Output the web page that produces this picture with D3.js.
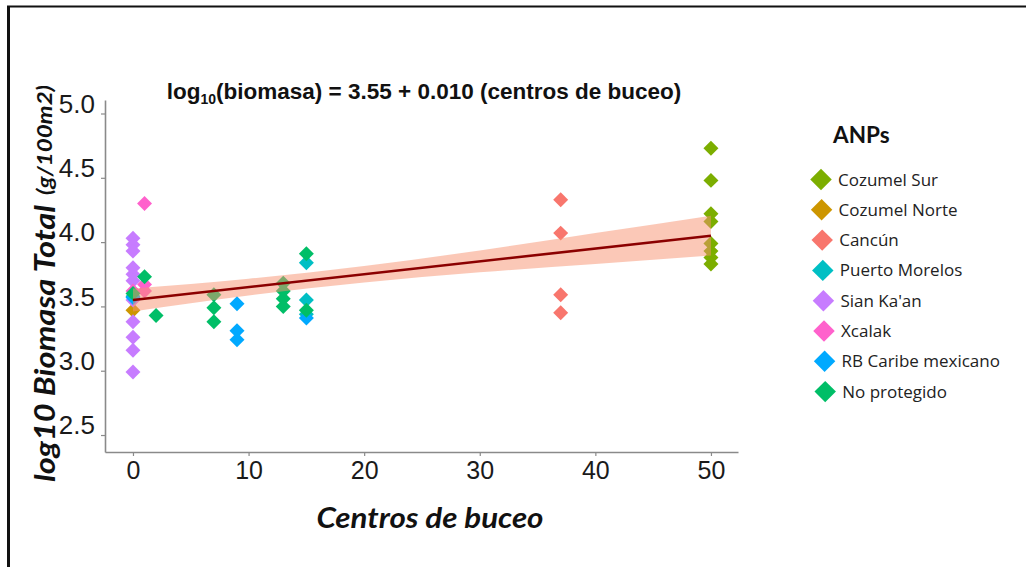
<!DOCTYPE html>
<html>
<head>
<meta charset="utf-8">
<script src="https://cdn.jsdelivr.net/npm/d3@7"></script>
<style>
  html, body { margin: 0; padding: 0; background: #fff; }
  svg { display: block; }
</style>
</head>
<body>
<svg id="chart" width="1026" height="567"></svg>
<script>
// ---------- data ----------
const categories = ["Cozumel Sur", "Cozumel Norte", "Cancún", "Puerto Morelos", "Sian Ka'an", "Xcalak", "RB Caribe mexicano", "No protegido"];
const colors = ["#7CAE00", "#CD9600", "#F8766D", "#00BFC4", "#C77CFF", "#FF61CC", "#00A9FF", "#00BE67"];

const cozumelSurX = [50, 50, 50, 50, 50, 50, 50, 50];
const cozumelSurY = [4.73, 4.48, 4.22, 4.16, 3.99, 3.93, 3.88, 3.83];
const cozumelNorteX = [0];
const cozumelNorteY = [3.47];
const cancunX = [37, 37, 37, 37];
const cancunY = [4.33, 4.07, 3.59, 3.45];
const puertoMorelosX = [0, 15, 15, 15];
const puertoMorelosY = [3.58, 3.84, 3.55, 3.44];
const sianKaanX = [0, 0, 0, 0, 0, 0, 0, 0, 0, 0, 0];
const sianKaanY = [4.03, 3.98, 3.93, 3.80, 3.75, 3.70, 3.55, 3.38, 3.26, 3.16, 2.99];
const xcalakX = [1, 0, 1, 1];
const xcalakY = [4.30, 3.62, 3.67, 3.62];
const rbCaribeX = [0, 9, 9, 9, 15];
const rbCaribeY = [3.57, 3.52, 3.31, 3.24, 3.41];
const noProtegidoX = [0, 1, 2, 7, 7, 7, 13, 13, 13, 13, 15, 15];
const noProtegidoY = [3.60, 3.73, 3.43, 3.59, 3.49, 3.38, 3.68, 3.62, 3.56, 3.50, 3.91, 3.47];

const fitX = [0, 50];
const fitY = [3.55, 4.05];
const ciX = [0, 10, 20, 30, 40, 50];
const ciLow = [3.46, 3.585, 3.685, 3.765, 3.83, 3.895];
const ciHigh = [3.64, 3.715, 3.815, 3.935, 4.07, 4.205];

const xTicks = [0, 10, 20, 30, 40, 50];
const xTickLabels = ["0", "10", "20", "30", "40", "50"];
const yTicks = [2.5, 3.0, 3.5, 4.0, 4.5, 5.0];
const yTickLabels = ["2.5", "3.0", "3.5", "4.0", "4.5", "5.0"];

const seriesX = [cozumelSurX, cozumelNorteX, cancunX, puertoMorelosX, sianKaanX, xcalakX, rbCaribeX, noProtegidoX];
const seriesY = [cozumelSurY, cozumelNorteY, cancunY, puertoMorelosY, sianKaanY, xcalakY, rbCaribeY, noProtegidoY];

// ---------- drawing ----------
const svg = d3.select("#chart");

// frame
svg.append("line").attr("x1", 8.5).attr("x2", 8.5).attr("y1", 6).attr("y2", 567)
  .attr("stroke", "#111").attr("stroke-width", 3);
svg.append("line").attr("x1", 7).attr("x2", 1026).attr("y1", 6.5).attr("y2", 6.5)
  .attr("stroke", "#111").attr("stroke-width", 2);

const x = d3.scaleLinear().domain([-2.42, 52.34]).range([105, 738]);
const y = d3.scaleLinear().domain([2.368, 5.105]).range([452, 100]);

// axes
const axisColor = "#8a8a8a";
const gx = svg.append("g").attr("transform", "translate(0,452)")
  .call(d3.axisBottom(x).tickValues(xTicks).tickFormat((d, i) => xTickLabels[i]).tickSizeInner(4).tickSizeOuter(0).tickPadding(4));
const gy = svg.append("g").attr("transform", "translate(105,0)")
  .call(d3.axisLeft(y).tickValues(yTicks).tickFormat((d, i) => yTickLabels[i]).tickSizeInner(4).tickSizeOuter(0).tickPadding(6));
[gx, gy].forEach(g => {
  g.select(".domain").attr("stroke", axisColor).attr("stroke-width", 1.6);
  g.selectAll(".tick line").attr("stroke", axisColor).attr("stroke-width", 1.2);
  g.selectAll(".tick text").attr("fill", "#1a1a1a")
    .style("font-family", "'Liberation Sans', Arial, sans-serif").style("font-size", "25px");
});
gy.selectAll(".tick text").attr("dy", "-0.05em").style("font-size", "26px");
gx.selectAll(".tick text").attr("dy", "0.75em");

// points
const diamond = d3.symbol().type(d3.symbolSquare).size(112);
const pts = [];
seriesX.forEach((xs, i) => xs.forEach((xv, j) => pts.push({ x: xv, y: seriesY[i][j], c: colors[i] })));
svg.append("g").selectAll("path").data(pts).join("path")
  .attr("d", diamond)
  .attr("transform", d => `translate(${x(d.x)},${y(d.y)}) rotate(45)`)
  .attr("fill", d => d.c);

// confidence band
const band = d3.area()
  .x((d, i) => x(ciX[i]))
  .y0((d, i) => y(ciLow[i]))
  .y1((d, i) => y(ciHigh[i]))
  .curve(d3.curveMonotoneX);
svg.append("path").datum(ciX).attr("d", band)
  .attr("fill", "#f7926f").attr("fill-opacity", 0.5);

// fit line
const line = d3.line().x((d, i) => x(fitX[i])).y((d, i) => y(fitY[i]));
svg.append("path").datum(fitX).attr("d", line)
  .attr("stroke", "#8B0000").attr("stroke-width", 2.6).attr("fill", "none");

// title
const title = svg.append("text").attr("x", 424).attr("y", 99).attr("text-anchor", "middle")
  .style("font-family", "'Liberation Sans', Arial, sans-serif").style("font-weight", "bold").style("font-size", "22.5px")
  .attr("fill", "#111");
title.append("tspan").text("log");
title.append("tspan").text("10").style("font-size", "14px").attr("dy", "5");
title.append("tspan").text("(biomasa) = 3.55 + 0.010 (centros de buceo)").attr("dy", "-5");

// x axis title
svg.append("text").attr("x", 430).attr("y", 528).attr("text-anchor", "middle")
  .attr("textLength", 227).attr("lengthAdjust", "spacingAndGlyphs")
  .style("font-family", "Lato, 'Open Sans', sans-serif").style("font-weight", "bold").style("font-style", "italic")
  .style("font-size", "29px").attr("fill", "#111").text("Centros de buceo");

// y axis title
const yt = svg.append("g").attr("transform", "translate(55,0)");
yt.append("text").attr("transform", "translate(0,482) rotate(-90)")
  .attr("textLength", 277).attr("lengthAdjust", "spacingAndGlyphs")
  .style("font-family", "Lato, 'Open Sans', sans-serif").style("font-weight", "bold").style("font-style", "italic")
  .style("font-size", "28px").attr("fill", "#111").text("log10 Biomasa Total");
yt.append("text").attr("transform", "translate(-3,195) rotate(-90)")
  .attr("textLength", 110).attr("lengthAdjust", "spacingAndGlyphs")
  .style("font-family", "Lato, 'Open Sans', sans-serif").style("font-weight", "bold").style("font-style", "italic")
  .style("font-size", "21px").attr("fill", "#111").text("(g/100m2)");

// legend
svg.append("text").attr("x", 833).attr("y", 143)
  .style("font-family", "Lato, 'Open Sans', sans-serif").style("font-weight", "bold").style("font-size", "22.5px")
  .attr("fill", "#111").text("ANPs");
const legDiamond = d3.symbol().type(d3.symbolSquare).size(230);
const leg = svg.append("g").selectAll("g").data(categories).join("g")
  .attr("transform", (d, i) => `translate(0,${179.5 + i * 30.3})`);
leg.append("path").attr("d", legDiamond)
  .attr("transform", (d, i) => `translate(${821 + i * 0.6},0) rotate(45)`)
  .attr("fill", (d, i) => colors[i]);
leg.append("text").attr("x", (d, i) => 838 + i * 0.6).attr("y", 6)
  .style("font-family", "'Open Sans', sans-serif").style("font-size", "17px")
  .attr("fill", "#222").text(d => d);
</script>
</body>
</html>
